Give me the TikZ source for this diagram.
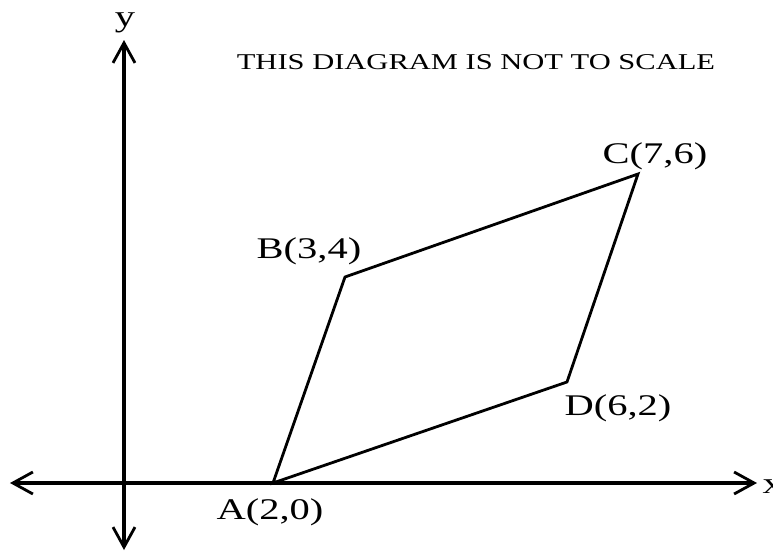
\documentclass[tikz,border=0pt]{standalone}
\usepackage{fontspec}
\setmainfont{Liberation Serif}
\usetikzlibrary{arrows.meta,positioning}

\begin{document}
\begin{tikzpicture}[
  x=0.5pt, y=-0.5pt,
  axis/.style={line width=1.6pt, {Straight Barb[length=10pt,width=11pt,line width=1.4pt]}-{Straight Barb[length=10pt,width=11pt,line width=1.4pt]}},
  side/.style={line width=1.4pt, line join=miter},
  ptlabel/.style={font=\fontsize{15}{18}\selectfont, xscale=1.35, inner sep=0pt},
  note/.style={font=\fontsize{11.3}{14}\selectfont, xscale=1.35, inner sep=0pt}
]
\useasboundingbox (0,0) rectangle (773,552);

% Axes
\coordinate (xl) at (10,483);
\coordinate (xr) at (757,483);
\coordinate (yt) at (124,40);
\coordinate (yb) at (124,550);
\draw[axis] (xl) -- (xr);
\draw[axis] (yb) -- (yt);
\node[ptlabel, anchor=west] (xlab) at (762,487) {x};
\node[ptlabel, anchor=south] (ylab) at (125,33) {y};

% Vertices
\coordinate (A) at (273,483);
\coordinate (B) at (345,277);
\coordinate (C) at (638,174);
\coordinate (D) at (567,382);
\draw[side] (A) -- (B) -- (C) -- (D) -- cycle;

% Labels
\node[ptlabel] (alab) at (270,512) {A(2,0)};
\node[ptlabel] (blab) at (309,251) {B(3,4)};
\node[ptlabel] (clab) at (655,156) {C(7,6)};
\node[ptlabel] (dlab) at (618,408) {D(6,2)};

% Note
\node[note] (title) at (476,62) {THIS DIAGRAM IS NOT TO SCALE};

\end{tikzpicture}
\end{document}
